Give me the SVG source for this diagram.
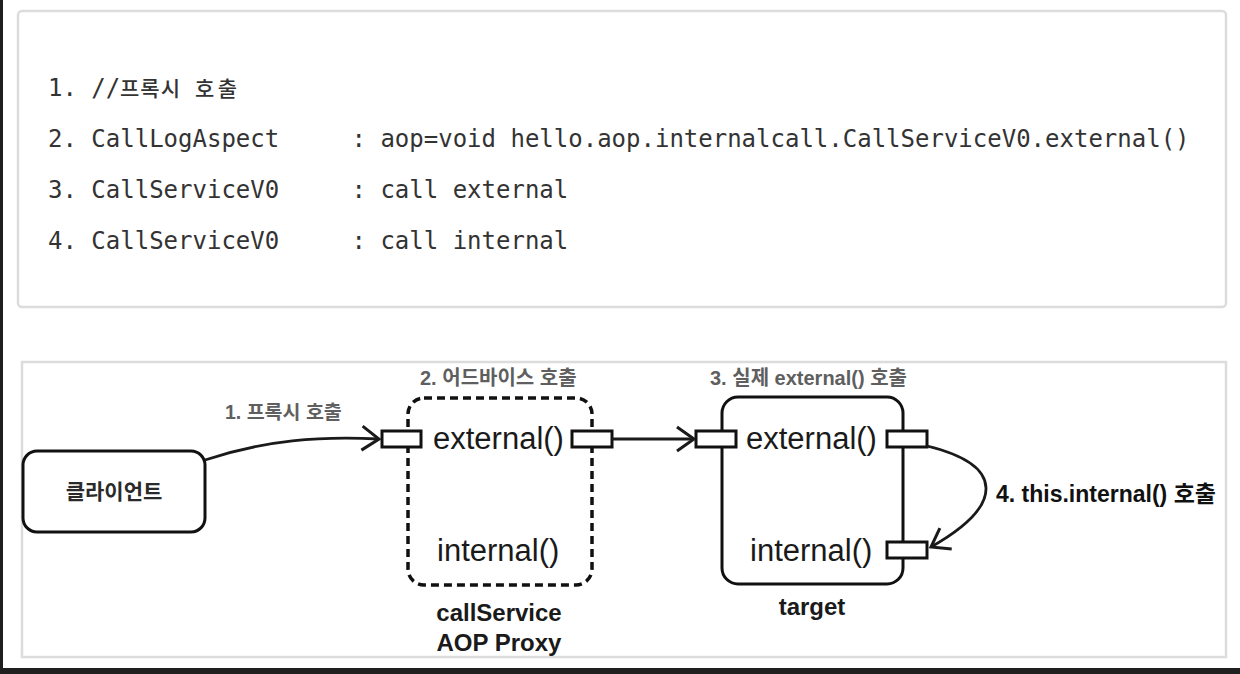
<svg xmlns="http://www.w3.org/2000/svg" width="1240" height="674" viewBox="0 0 1240 674">
<style>
.code{font-family:"DejaVu Sans Mono","Liberation Mono","Noto Sans CJK KR",monospace;font-size:24px;fill:#333}
.ko{font-family:"Noto Sans CJK KR",sans-serif;font-size:21px;font-weight:500}
.lbl{font-family:"Liberation Sans","Noto Sans CJK KR",sans-serif;font-weight:bold;fill:#5f5f5f}
.meth{font-family:"Liberation Sans","Noto Sans CJK KR",sans-serif;font-size:31px;fill:#1a1a1a}
.name{font-family:"Liberation Sans","Noto Sans CJK KR",sans-serif;font-size:24px;font-weight:bold;fill:#1a1a1a;text-anchor:middle}
.box{fill:#fff;stroke:#111;stroke-width:3}
.port{fill:#fff;stroke:#111;stroke-width:3}
.conn{fill:none;stroke:#1a1a1a;stroke-width:2.8}
</style>
<defs>
<marker id="open" markerUnits="userSpaceOnUse" markerWidth="40" markerHeight="40" viewBox="-20 -20 40 40" refX="0" refY="0" orient="auto">
<path d="M-17,-12 L0,0 L-17,12" fill="none" stroke="#1a1a1a" stroke-width="3" stroke-linejoin="miter"/>
</marker>
</defs>
<rect x="0" y="0" width="1240" height="674" fill="#fff"/>
<rect x="0" y="0" width="3" height="674" fill="#1f1f1f"/>
<rect x="0" y="668" width="1240" height="6" fill="#1f1f1f"/>
<g id="log">
<rect x="18" y="11" width="1208" height="296" rx="4" fill="#fff" stroke="#dcdcdc" stroke-width="2.5"/>
<text class="code" y="96"><tspan x="48">1. //</tspan><tspan class="ko" x="120" textLength="60" lengthAdjust="spacing">프록시</tspan><tspan class="ko" x="195" textLength="42" lengthAdjust="spacing">호출</tspan></text>
<text class="code" y="147"><tspan x="48">2. CallLogAspect</tspan><tspan x="351.5">:</tspan><tspan x="380.4">aop=void hello.aop.internalcall.CallServiceV0.external()</tspan></text>
<text class="code" y="198"><tspan x="48">3. CallServiceV0</tspan><tspan x="351.5">:</tspan><tspan x="380.4">call external</tspan></text>
<text class="code" y="249"><tspan x="48">4. CallServiceV0</tspan><tspan x="351.5">:</tspan><tspan x="380.4">call internal</tspan></text>
</g>
<rect x="22" y="362" width="1204" height="295" fill="none" stroke="#dcdcdc" stroke-width="2.5"/>
<g id="client">
<rect class="box" x="23" y="451" width="182" height="81" rx="14"/>
<text x="114" y="499" text-anchor="middle" font-family="'Noto Sans CJK KR',sans-serif" font-size="21" font-weight="bold" fill="#2a2a2a">클라이언트</text>
</g>
<g id="proxy">
<rect x="408" y="398" width="184" height="187" rx="16" fill="none" stroke="#111" stroke-width="3.5" stroke-dasharray="8 5"/>
<text class="meth" x="433" y="449">external()</text>
<text class="meth" x="437" y="561">internal()</text>
<rect class="port" x="382" y="431" width="39" height="16"/>
<rect class="port" x="572" y="431" width="40" height="16"/>
<text class="name" x="499" y="621">callService</text>
<text class="name" x="499" y="651">AOP Proxy</text>
</g>
<g id="target">
<rect class="box" x="722" y="397" width="181" height="187" rx="16"/>
<text class="meth" x="746" y="449">external()</text>
<text class="meth" x="750" y="561">internal()</text>
<rect class="port" x="696" y="431" width="40" height="16"/>
<rect class="port" x="887" y="431" width="40" height="16"/>
<rect class="port" x="887" y="542" width="40" height="16"/>
<text class="name" x="812" y="615">target</text>
</g>
<g id="connectors">
<path class="conn" d="M205,460 C265,440 320,436 379,439" marker-end="url(#open)"/>
<path class="conn" d="M612,439 L694,439" marker-end="url(#open)"/>
<path class="conn" d="M927,446 C1005,465 1005,505 931,547" marker-end="url(#open)"/>
</g>
<g id="labels">
<text class="lbl" x="225" y="419" font-size="19.5">1. 프록시 호출</text>
<text class="lbl" x="420" y="385" font-size="20">2. 어드바이스 호출</text>
<text class="lbl" x="710" y="385" font-size="20">3. 실제 external() 호출</text>
<text class="lbl" x="996" y="502" font-size="23" style="fill:#111">4. this.internal() 호출</text>
</g>
</svg>
